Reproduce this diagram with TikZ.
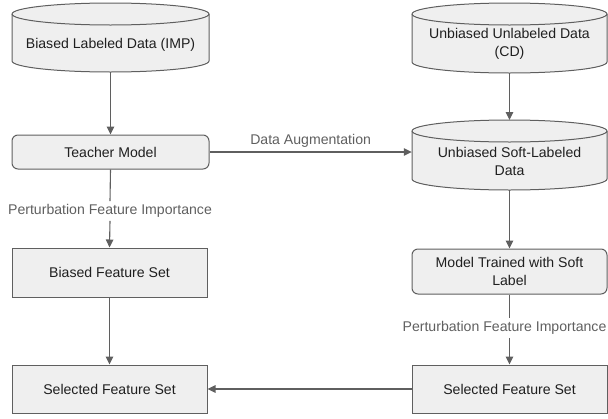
\documentclass[tikz,border=0pt]{standalone}
\usepackage{fontspec}
\setmainfont{Liberation Sans}
\usetikzlibrary{arrows.meta,calc}
\definecolor{lc}{HTML}{5F5F5F}
\definecolor{fc}{HTML}{EFEFEF}
\definecolor{tc}{HTML}{1F1F1F}
\tikzset{
  shapebox/.style={draw=lc,fill=fc,line width=1pt},
  shapeline/.style={draw=lc,line width=1pt},
  boxtxt/.style={text=tc,font=\fontsize{14.1}{17.5}\selectfont,align=center,inner sep=0pt},
  rbox/.style={shapebox,rounded corners=6pt,minimum width=195pt,inner sep=0pt,boxtxt},
  sbox/.style={shapebox,minimum width=195pt,inner sep=0pt,boxtxt},
  lbl/.style={text=lc,font=\fontsize{14.1}{17}\selectfont,inner sep=3pt},
  conn/.style={draw=lc,line width=1.1pt},
  arr/.style={conn,-{Triangle[length=8pt,width=7.5pt]}},
}
\newcommand\mycyl[4]{%
  \pgfmathsetmacro\rx{(#2-#1)/2}%
  \filldraw[shapebox] (#1,{-(#3+11)}) -- (#1,{-(#4-11)}) arc[start angle=180,end angle=360,x radius=\rx pt,y radius=11pt] -- (#2,{-(#3+11)}) arc[start angle=0,end angle=180,x radius=\rx pt,y radius=11pt] -- cycle;
  \draw[shapeline] (#1,{-(#3+11)}) arc[start angle=180,end angle=360,x radius=\rx pt,y radius=11pt];
}
\begin{document}
\begin{tikzpicture}[x=1pt,y=1pt]
\useasboundingbox (0,0) rectangle (608,-418);
% cylinders
\mycyl{12}{209}{3}{72}
\mycyl{412}{607}{3}{73}
\mycyl{412}{607}{120}{190}
\node[boxtxt,minimum width=197pt,minimum height=54pt] (c1) at (110.5,-45) {Biased Labeled Data (IMP)};
\node[boxtxt,minimum width=195pt,minimum height=58pt] (c2) at (509.5,-44) {Unbiased Unlabeled Data\\(CD)};
\node[boxtxt,minimum width=195pt,minimum height=57pt] (c3) at (509.5,-161.5) {Unbiased Soft-Labeled\\Data};
\coordinate (c3top) at (509.5,-120);
% boxes
\node[rbox,minimum width=197pt,minimum height=34pt] (tm) at (110.5,-152) {Teacher Model};
\node[sbox,minimum height=49pt] (bfs) at (109.5,-272.5) {Biased Feature Set};
\node[sbox,minimum height=48pt] (sfs1) at (109.5,-389) {Selected Feature Set};
\node[rbox,minimum height=45pt] (mt) at (509.5,-271.5) {Model Trained with Soft\\Label};
\node[sbox,minimum height=48pt] (sfs2) at (509.5,-389) {Selected Feature Set};
% labels
\node[lbl] (p1) at (110,-211) {Perturbation Feature Importance};
\node[lbl] (p2) at (504.5,-328) {Perturbation Feature Importance};
% connectors
\draw[arr] (c1.south) -- (tm.north);
\draw[arr] (c2.south) -- (c3top);
\draw[arr] (tm.east) -- node[lbl,above=1pt] (da) {Data Augmentation} (tm.east -| c3.west);
\draw[arr] (c3.south) -- (mt.north);
\draw[conn] (tm.south) -- (p1.north);
\draw[arr] (p1.south) -- (bfs.north);
\draw[arr] (bfs.south) -- (sfs1.north);
\draw[conn] (mt.south) -- (mt.south |- p2.north);
\draw[arr] (mt.south |- p2.south) -- (sfs2.north);
\draw[arr] (sfs2.west) -- (sfs1.east);
\end{tikzpicture}
\end{document}
